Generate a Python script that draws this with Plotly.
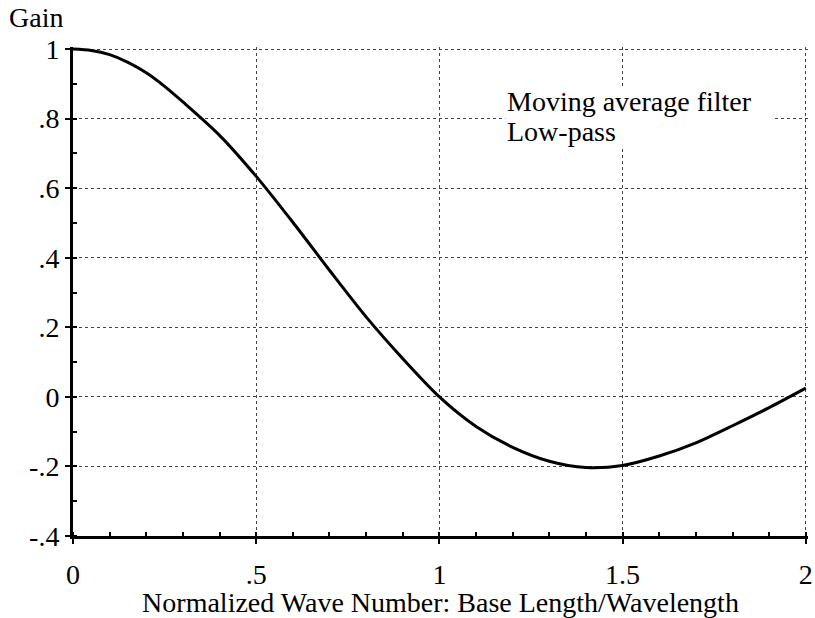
import plotly.graph_objects as go

# Data
wave_number = [0.0, 0.05, 0.1, 0.15, 0.2, 0.25, 0.3, 0.4, 0.5, 0.6, 0.7, 0.8, 0.9, 1.0,
               1.1, 1.2, 1.3, 1.4, 1.5, 1.6, 1.7, 1.8, 1.9, 2.0]
gain = [1.0, 0.996, 0.984, 0.962, 0.932, 0.893, 0.848, 0.752, 0.634, 0.502, 0.364, 0.23, 0.11, 0.0,
        -0.085, -0.145, -0.185, -0.203, -0.197, -0.17, -0.132, -0.083, -0.031, 0.025]

x_tickvals = [0, 0.5, 1, 1.5, 2]
x_ticktext = ["0", ".5", "1", "1.5", "2"]
y_tickvals = [-0.4, -0.2, 0, 0.2, 0.4, 0.6, 0.8, 1.0]
y_ticktext = ["-.4", "-.2", "0", ".2", ".4", ".6", ".8", "1"]

FONT = "Liberation Serif"
FS = 28

fig = go.Figure()
fig.add_trace(go.Scatter(
    x=wave_number, y=gain, mode="lines",
    line=dict(color="black", width=3, shape="spline", smoothing=0.8),
    cliponaxis=False, showlegend=False, hoverinfo="skip"))

# white backing behind the legend-like label (hides the grid there)
fig.add_shape(type="rect", xref="x", yref="y", x0=1.18, x1=1.915, y0=0.715, y1=0.89,
              fillcolor="white", line=dict(width=0), layer="between")

fig.update_layout(
    width=815, height=618,
    margin=dict(l=73, r=2, t=47, b=82),
    paper_bgcolor="white", plot_bgcolor="white",
    font=dict(family=FONT, size=FS, color="black"),
    xaxis=dict(
        range=[0, 2.006], tickvals=x_tickvals, ticktext=x_ticktext,
        showgrid=True, gridcolor="#444", griddash="dot", gridwidth=1,
        showline=True, linecolor="black", linewidth=3,
        ticks="outside", ticklen=5, tickwidth=2, tickcolor="black",
        ticklabelstandoff=6, ticklabeloverflow="allow",
        minor=dict(dtick=0.1, tick0=0, ticks="inside", ticklen=4,
                   tickwidth=2, tickcolor="black", showgrid=False),
        zeroline=False,
        title=dict(text="Normalized Wave Number: Base Length/Wavelength",
                   font=dict(family=FONT, size=FS), standoff=0),
    ),
    yaxis=dict(
        range=[-0.4, 1.006], tickvals=y_tickvals, ticktext=y_ticktext,
        showgrid=True, gridcolor="#444", griddash="dot", gridwidth=1,
        showline=True, linecolor="black", linewidth=3,
        ticks="outside", ticklen=5, tickwidth=2, tickcolor="black",
        minor=dict(dtick=0.1, tick0=0, ticks="inside", ticklen=4,
                   tickwidth=2, tickcolor="black", showgrid=False),
        zeroline=False,
    ),
    annotations=[
        dict(text="Gain", xref="paper", yref="paper", x=-0.09, y=1.06,
             xanchor="left", yanchor="middle", showarrow=False,
             font=dict(family=FONT, size=FS)),
        dict(text="Moving average filter", xref="x", yref="y",
             x=1.18, y=0.85, xanchor="left", yanchor="middle", align="left",
             showarrow=False, font=dict(family=FONT, size=FS)),
        dict(text="Low-pass", xref="x", yref="y",
             x=1.18, y=0.762, xanchor="left", yanchor="middle", align="left",
             showarrow=False, font=dict(family=FONT, size=FS)),
    ],
)

fig.write_html("out.html")
